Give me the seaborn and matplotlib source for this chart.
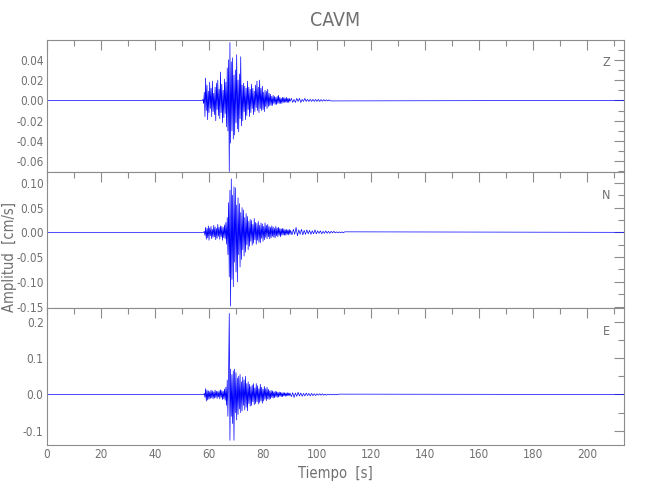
import numpy as np
import pandas as pd
import matplotlib
matplotlib.use("Agg")
import matplotlib.pyplot as plt
from matplotlib import font_manager as fm
from matplotlib.ticker import MultipleLocator, FuncFormatter
import seaborn as sns

# ---------------- data ----------------
station = "CAVM"
components = ["Z", "N", "E"]
record_end = 214.0          # s, end of the record
event_dt = 0.25             # s, spacing of the listed event samples
tail_dt = 0.5               # s, spacing of the listed coda samples

z_event_start = 57.5
z_event = [0.000, 0.001, -0.003, 0.008, -0.016, 0.022, -0.010, 0.015, -0.019, 0.009,
           -0.012, 0.018, -0.008, 0.012, -0.016, 0.019, -0.011, 0.007, -0.014, 0.013,
           -0.020, 0.017, -0.009, 0.020, -0.015, 0.011, -0.018, 0.028, -0.012, 0.016,
           -0.022, 0.010, -0.017, 0.021, -0.013, 0.018, -0.026, 0.032, -0.030, 0.040,
           -0.070, 0.057, -0.042, 0.038, -0.030, 0.042, -0.038, 0.025, -0.034, 0.030,
           -0.022, 0.045, -0.028, 0.020, -0.031, 0.026, -0.018, 0.043, -0.025, 0.015,
           -0.020, 0.017, -0.011, 0.014, -0.019, 0.012, -0.015, 0.019, -0.009, 0.013,
           -0.016, 0.011, -0.012, 0.016, -0.008, 0.012, -0.014, 0.009, -0.011, 0.015,
           -0.007, 0.019, -0.010, 0.013, -0.012, 0.020, -0.008, 0.012, -0.010, 0.014,
           -0.009, 0.008, -0.011, 0.010, -0.006, 0.009, -0.008, 0.011, -0.006, 0.007,
           -0.005, 0.006, -0.005, 0.004, -0.005, 0.005, -0.003, 0.004, -0.004, 0.003,
           -0.004, 0.004, -0.003, 0.005, -0.003, 0.003, -0.003, 0.002, -0.003, 0.003,
           -0.002, 0.003, -0.002, 0.002, -0.002, 0.003, -0.002, 0.002, -0.002, 0.002,
           -0.001]
z_tail = [0.002, -0.002, 0.001, -0.002, 0.002, -0.001, 0.002, -0.002, 0.001, -0.001,
          0.002, -0.001, 0.001, -0.001, 0.001, -0.001, 0.001, -0.001, 0.001, -0.001,
          0.001, -0.001, 0.0008, -0.0008, 0.0008, -0.0006, 0.0006, -0.0006, 0.0006, -0.0005]

n_event_start = 58.0
n_event = [0.000, 0.002, -0.006, 0.010, -0.014, 0.008, -0.011, 0.013, -0.016, 0.009,
           -0.007, 0.012, -0.013, 0.006, -0.010, 0.014, -0.009, 0.011, -0.015, 0.008,
           -0.012, 0.016, -0.008, 0.010, -0.014, 0.013, -0.009, 0.012, -0.016, 0.010,
           -0.011, 0.015, -0.013, 0.020, -0.024, 0.030, -0.045, 0.060, -0.090, 0.085,
           -0.149, 0.108, -0.095, 0.075, -0.110, 0.092, -0.060, 0.090, -0.080, 0.055,
           -0.100, 0.070, -0.045, 0.058, -0.070, 0.040, -0.055, 0.050, -0.035, 0.045,
           -0.048, 0.030, -0.040, 0.038, -0.025, 0.032, -0.035, 0.022, -0.028, 0.026,
           -0.018, 0.024, -0.026, 0.016, -0.022, 0.028, -0.015, 0.020, -0.024, 0.018,
           -0.016, 0.022, -0.020, 0.014, -0.021, 0.019, -0.012, 0.017, -0.018, 0.012,
           -0.015, 0.019, -0.010, 0.014, -0.013, 0.016, -0.009, 0.012, -0.013, 0.010,
           -0.011, 0.013, -0.008, 0.011, -0.010, 0.008, -0.011, 0.012, -0.007, 0.009,
           -0.009, 0.010, -0.006, 0.008, -0.009, 0.007, -0.006, 0.008, -0.005, 0.007,
           -0.006, 0.005, -0.006, 0.006, -0.004, 0.005, -0.005, 0.006, -0.004, 0.004]
n_tail = [-0.005, 0.006, -0.004, 0.010, -0.007, 0.005, -0.004, 0.006, -0.005, 0.004,
          -0.004, 0.005, -0.003, 0.004, -0.004, 0.003, -0.003, 0.005, -0.003, 0.003,
          -0.002, 0.003, -0.003, 0.002, -0.002, 0.003, -0.002, 0.002, -0.002, 0.002,
          -0.001, 0.002, -0.001, 0.001, -0.001, 0.001, -0.001, 0.001, -0.001, 0.001]

e_event_start = 58.0
e_event = [0.000, 0.003, -0.008, 0.016, -0.018, 0.012, -0.015, 0.010, -0.013, 0.008,
           -0.011, 0.012, -0.009, 0.010, -0.012, 0.007, -0.010, 0.012, -0.008, 0.009,
           -0.011, 0.008, -0.007, 0.010, -0.012, 0.013, -0.008, 0.011, -0.014, 0.009,
           -0.012, 0.015, -0.016, 0.020, -0.030, 0.040, -0.060, 0.050, 0.223, -0.126,
           0.070, -0.060, 0.055, -0.080, 0.065, -0.126, 0.070, -0.050, 0.060, -0.070,
           0.045, -0.055, 0.050, -0.040, 0.055, -0.050, 0.035, -0.045, 0.048, -0.030,
           0.040, -0.042, 0.050, -0.035, 0.030, -0.045, 0.035, -0.025, 0.028, -0.032,
           0.022, -0.030, 0.026, -0.020, 0.030, -0.028, 0.018, -0.025, 0.030, -0.020,
           0.024, -0.026, 0.016, -0.022, 0.028, -0.018, 0.020, -0.024, 0.015, -0.018,
           0.022, -0.013, 0.016, -0.017, 0.020, -0.012, 0.014, -0.014, 0.010, -0.012,
           0.011, -0.008, 0.010, -0.010, 0.007, -0.009, 0.009, -0.006, 0.008, -0.008,
           0.006, -0.007, 0.007, -0.005, 0.006, -0.006, 0.005, -0.006, 0.005, -0.004,
           0.005, -0.005, 0.004, -0.004, 0.005, -0.004, 0.004, -0.003, 0.004]
e_tail = [-0.006, 0.005, -0.008, 0.004, -0.005, 0.006, -0.004, 0.004, -0.005, 0.003,
          -0.004, 0.004, -0.003, 0.003, -0.004, 0.003, -0.003, 0.002, -0.003, 0.002,
          -0.002, 0.002, -0.002, 0.002, -0.002, 0.001, -0.002, 0.001, -0.001, 0.001,
          -0.001, 0.001, -0.001, 0.001, -0.001, 0.001]

y_limits = [(-0.0705, 0.0595), (-0.153, 0.122), (-0.139, 0.238)]
y_major = [0.02, 0.05, 0.1]
y_minor = [0.01, 0.025, 0.05]
y_decimals = [2, 2, 1]


def build_trace(start, event, tail):
    te = start + event_dt * np.arange(len(event))
    tt = te[-1] + tail_dt * (1 + np.arange(len(tail)))
    t = np.concatenate([[0.0], te, tt, [record_end]])
    a = np.concatenate([[0.0], event, tail, [0.0]])
    return pd.DataFrame({"Tiempo": t, "Amplitud": a})


traces = [build_trace(z_event_start, z_event, z_tail),
          build_trace(n_event_start, n_event, n_tail),
          build_trace(e_event_start, e_event, e_tail)]

# ---------------- style ----------------
sns.set_style("white")
plt.rcParams["font.family"] = ["DejaVu Sans"]

# pick a narrow face if one is installed (reference uses a thin condensed font)
narrow_file = None
for f in fm.fontManager.ttflist:
    fn = f.fname.lower()
    if (("narrow" in fn or "condensed" in fn) and "bold" not in fn
            and "italic" not in fn and "oblique" not in fn and f.weight in (400, "normal", "regular")):
        narrow_file = f.fname
        break
if narrow_file:
    fp_tick = fm.FontProperties(fname=narrow_file, size=8.5)
    fp_lab = fm.FontProperties(fname=narrow_file, size=10.5)
    fp_title = fm.FontProperties(fname=narrow_file, size=14)
    fp_comp = fm.FontProperties(fname=narrow_file, size=9)
else:
    fp_tick = fm.FontProperties(family="DejaVu Sans", size=7.5)
    fp_lab = fm.FontProperties(family="DejaVu Sans", size=9.5)
    fp_title = fm.FontProperties(family="DejaVu Sans", size=13)
    fp_comp = fm.FontProperties(family="DejaVu Sans", size=8.5)

text_color = "#707070"
spine_color = "#8c8c8c"


def make_fmt(nd):
    def f(v, pos):
        s = f"{abs(v):.{nd}f}"
        return ("-" + s) if v < -1e-12 else s
    return FuncFormatter(f)


fig = plt.figure(figsize=(6.5, 5.0), dpi=100)
gs = fig.add_gridspec(3, 1, left=47 / 650, right=624 / 650, top=1 - 40 / 500,
                      bottom=1 - 445 / 500, hspace=0, height_ratios=[132, 136, 137])
axes = [fig.add_subplot(gs[i]) for i in range(3)]

for i, ax in enumerate(axes):
    sns.lineplot(data=traces[i], x="Tiempo", y="Amplitud", ax=ax, color="#0000ff",
                 linewidth=0.5, estimator=None, sort=False)
    ax.set_xlim(0, 213.7)
    ax.set_ylim(*y_limits[i])
    ax.xaxis.set_major_locator(MultipleLocator(20))
    ax.xaxis.set_minor_locator(MultipleLocator(10))
    ax.yaxis.set_major_locator(MultipleLocator(y_major[i]))
    ax.yaxis.set_minor_locator(MultipleLocator(y_minor[i]))
    ax.yaxis.set_major_formatter(make_fmt(y_decimals[i]))
    ax.xaxis.set_major_formatter(make_fmt(0))
    ax.tick_params(which="both", direction="in", top=True, right=True,
                   color=spine_color, labelcolor=text_color, width=0.8, pad=2.5)
    ax.tick_params(which="major", length=7)
    ax.tick_params(which="minor", length=4)
    for s in ax.spines.values():
        s.set_color(spine_color)
        s.set_linewidth(0.8)
    ax.set_xlabel("")
    ax.set_ylabel("")
    ax.text(0.969, 0.83, components[i], transform=ax.transAxes, ha="center",
            va="center", fontproperties=fp_comp, color=text_color)
    if i < 2:
        ax.tick_params(labelbottom=False)

fig.canvas.draw()
for ax in axes:
    for tk in ax.yaxis.get_major_ticks() + ax.xaxis.get_major_ticks():
        tk.label1.set_fontproperties(fp_tick)
        tk.label2.set_fontproperties(fp_tick)

axes[2].set_xlabel("Tiempo  [s]", fontproperties=fp_lab, color=text_color, labelpad=3)
fig.text(0.0145, 0.487, "Amplitud  [cm/s]", rotation=90, ha="center", va="center",
         fontproperties=fp_lab, color=text_color)
fig.text(335.5 / 650, 1 - 20 / 500, station, ha="center", va="center",
         fontproperties=fp_title, color=text_color)

fig.savefig("out.png", dpi=100, facecolor="white")
